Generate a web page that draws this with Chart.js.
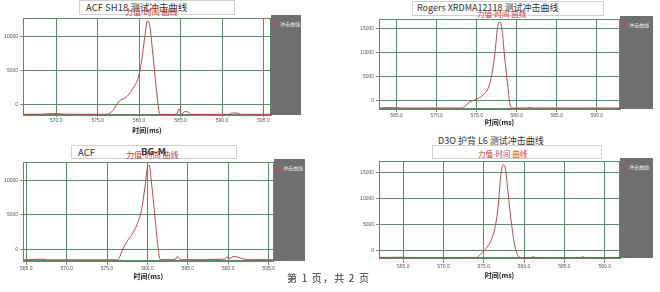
<!DOCTYPE html>
<html>
<head>
<meta charset="utf-8">
<script src="https://cdn.jsdelivr.net/npm/chart.js@4"></script>
<style>
body { margin: 0; width: 660px; height: 292px; position: relative; overflow: hidden; background: #fff;
       font-family: "Noto Sans CJK SC", "Liberation Sans", sans-serif; }
canvas { position: absolute; }
.box { position: absolute; border: 1px solid #cfcfcf; background: #fff; box-sizing: border-box; }
.t { position: absolute; white-space: nowrap; color: #333; font-size: 9.5px; line-height: 1; }
.r { position: absolute; white-space: nowrap; color: #c23a33; font-size: 8px; line-height: 1; }
.panel { position: absolute; background: #6f6f6f; }
.lg { position: absolute; top: 6px; left: 2px; white-space: nowrap; color: #eee; font-size: 5px; line-height: 1; }
.lg i { display: inline-block; width: 5px; height: 1px; background: #d04040; vertical-align: middle; margin-right: 2px; }
.page { position: absolute; left: 287px; top: 270px; font-size: 10px; color: #333; white-space: nowrap; letter-spacing: 1.2px; }
</style>
</head>
<body>

<div class="box" style="left:79px;top:0;width:156px;height:15px"></div>
<div class="t" style="left:86px;top:3px">ACF SH18 测试冲击曲线</div>
<div class="r" style="left:125px;top:8px">力值-时间 曲线</div>

<div class="box" style="left:412px;top:1px;width:192px;height:15px"></div>
<div class="t" style="left:417px;top:3px;font-size:9px">Rogers XRDMA12118 测试冲击曲线</div>
<div class="r" style="left:477px;top:10px;font-size:7.5px">力值-时间 曲线</div>

<div class="box" style="left:71px;top:145px;width:166px;height:14px"></div>
<div class="t" style="left:78px;top:148px">ACF</div>
<div class="r" style="left:126px;top:151px">力值-时间 曲线</div>
<div class="t" style="left:141px;top:147px;font-weight:bold">BG-M</div>

<div class="box" style="left:432px;top:145px;width:170px;height:14px"></div>
<div class="t" style="left:438px;top:136px;font-size:9px">D3O 护背 L6 测试冲击曲线</div>
<div class="r" style="left:478px;top:150px;font-size:7.5px">力值-时间 曲线</div>

<div class="panel" style="left:271px;top:15px;width:30px;height:100px"><div class="lg"><i></i>冲击曲线</div></div>
<div class="panel" style="left:620px;top:16px;width:33px;height:93px"><div class="lg"><i></i>冲击曲线</div></div>
<div class="panel" style="left:274px;top:159px;width:31px;height:102px"><div class="lg"><i></i>冲击曲线</div></div>
<div class="panel" style="left:620px;top:158px;width:33px;height:100px"><div class="lg"><i></i>冲击曲线</div></div>

<canvas id="c1" width="273" height="122" style="left:0;top:13px"></canvas>
<canvas id="c2" width="267" height="113" style="left:355px;top:14px"></canvas>
<canvas id="c3" width="276" height="124" style="left:0;top:157px"></canvas>
<canvas id="c4" width="267" height="124" style="left:355px;top:156px"></canvas>

<div class="page">第 1 页，共 2 页</div>

<script>
// ACF SH18
const xTicks1 = [570, 575, 580, 585, 590, 595];
const yTicks1 = [0, 5000, 10000];
const time1  = [566.0, 568.5, 569.0, 570.2, 571.0, 576.1, 576.9, 577.5, 578.5, 579.3, 579.9, 580.3, 580.7, 581.0, 581.3, 581.7, 582.1, 582.5, 584.5, 584.8, 585.1, 585.5, 585.9, 586.2, 590.9, 591.2, 591.9, 592.3, 595.9];
const force1 = [-1500, -1480, -1420, -1400, -1480, -1500, -850, 350, 1100, 2400, 3950, 6300, 10100, 12300, 11400, 6800, 2000, -1500, -1500, -700, -1500, -1100, -1150, -1500, -1500, -1300, -1320, -1500, -1500];

// Rogers XRDMA12118
const xTicks2 = [565, 570, 575, 580, 585, 590];
const yTicks2 = [0, 5000, 10000, 15000];
const time2  = [562.8, 563.8, 565.0, 565.5, 573.1, 574.2, 575.0, 575.8, 576.5, 576.9, 577.3, 577.6, 577.9, 578.2, 578.5, 578.9, 579.2, 579.5, 581.4, 581.7, 582.0, 592.9];
const force2 = [-1500, -1420, -1450, -1500, -1500, -150, 330, 1200, 2900, 5500, 10200, 15200, 16400, 14200, 8900, 2900, -1100, -1500, -1500, -1300, -1500, -1500];

// ACF BG-M
const xTicks3 = [565, 570, 575, 580, 585, 590, 595];
const yTicks3 = [0, 5000, 10000];
const time3  = [564.6, 566.0, 566.9, 567.5, 576.3, 576.9, 577.4, 578.1, 578.7, 579.3, 579.7, 580.0, 580.2, 580.5, 580.9, 581.3, 581.6, 583.4, 583.7, 584.0, 584.4, 586.6, 589.6, 589.8, 590.2, 590.7, 591.6, 592.4, 595.6];
const force3 = [-1500, -1450, -1420, -1500, -1500, -100, 1050, 2200, 3600, 5900, 9200, 11900, 12200, 9600, 5000, 400, -1480, -1480, -1000, -1400, -1480, -1480, -1400, -1100, -1300, -1000, -1300, -1480, -1480];

// D3O 护背 L6
const xTicks4 = [565, 570, 575, 580, 585, 590];
const yTicks4 = [0, 5000, 10000, 15000];
const time4  = [562.0, 565.0, 565.5, 574.1, 574.7, 575.3, 575.9, 576.4, 576.8, 577.1, 577.4, 577.7, 578.0, 578.4, 578.8, 579.3, 579.7, 580.8, 581.1, 581.5, 587.0, 587.3, 587.5, 591.9];
const force4 = [-1250, -1200, -1250, -1250, -430, 500, 2050, 4500, 8800, 14400, 16500, 15600, 11300, 5700, 1400, -1050, -1250, -1250, -1150, -1250, -1250, -1100, -1250, -1250];

const gridColor = '#5d8a69';
const tickFont = { family: 'Liberation Sans', size: 5 };

const framePlugin = {
    id: 'frame',
    beforeDatasetsDraw(chart) {
        const a = chart.chartArea, c = chart.ctx;
        c.save();
        c.strokeStyle = gridColor;
        c.lineWidth = 1;
        c.strokeRect(Math.round(a.left) + 0.5, Math.round(a.top) + 0.5,
                     Math.round(a.right - a.left) - 1, Math.round(a.bottom - a.top) - 1);
        c.restore();
    }
};

function drawCurve(id, time, force, xTicks, yTicks, xr, yr, yWidth, xHeight, tickLen) {
    new Chart(document.getElementById(id), {
        type: 'line',
        data: {
            datasets: [{
                data: time.map((t, i) => ({ x: t, y: force[i] })),
                borderColor: '#b8494a',
                borderWidth: 1,
                pointRadius: 0,
                cubicInterpolationMode: 'monotone'
            }]
        },
        options: {
            responsive: false,
            animation: false,
            devicePixelRatio: 1,
            layout: { padding: { top: 2, right: 2, left: 0, bottom: 0 } },
            plugins: { legend: { display: false }, tooltip: { enabled: false } },
            scales: {
                x: {
                    type: 'linear',
                    min: xr[0], max: xr[1],
                    afterBuildTicks: s => { s.ticks = xTicks.map(v => ({ value: v })); },
                    afterFit: s => { s.height = xHeight; },
                    grid: { color: gridColor, tickLength: tickLen, tickColor: '#888' },
                    border: { color: gridColor },
                    ticks: { font: tickFont, color: '#555', padding: 1, maxRotation: 0,
                             callback: v => v.toFixed(1) },
                    title: { display: true, text: '时间(ms)', color: '#222', padding: 0,
                             font: { family: 'Noto Sans CJK SC', size: 7, weight: 'bold' } }
                },
                y: {
                    min: yr[0], max: yr[1],
                    afterBuildTicks: s => { s.ticks = yTicks.map(v => ({ value: v })); },
                    afterFit: s => { s.width = yWidth; },
                    grid: { color: gridColor, tickLength: 3, tickColor: '#888' },
                    border: { color: gridColor },
                    ticks: { font: tickFont, color: '#555', padding: 2, callback: v => String(v) }
                }
            }
        },
        plugins: [framePlugin]
    });
}

drawCurve('c1', time1, force1, xTicks1, yTicks1, [566.0, 595.9], [-1600, 12700], 23, 20, 2);
drawCurve('c2', time2, force2, xTicks2, yTicks2, [562.8, 592.9], [-1700, 17000], 24, 18, 3);
drawCurve('c3', time3, force3, xTicks3, yTicks3, [564.6, 595.6], [-1670, 12640], 23, 20, 4);
drawCurve('c4', time4, force4, xTicks4, yTicks4, [562.0, 591.9], [-1350, 17200], 24, 22, 5);
</script>
</body>
</html>
